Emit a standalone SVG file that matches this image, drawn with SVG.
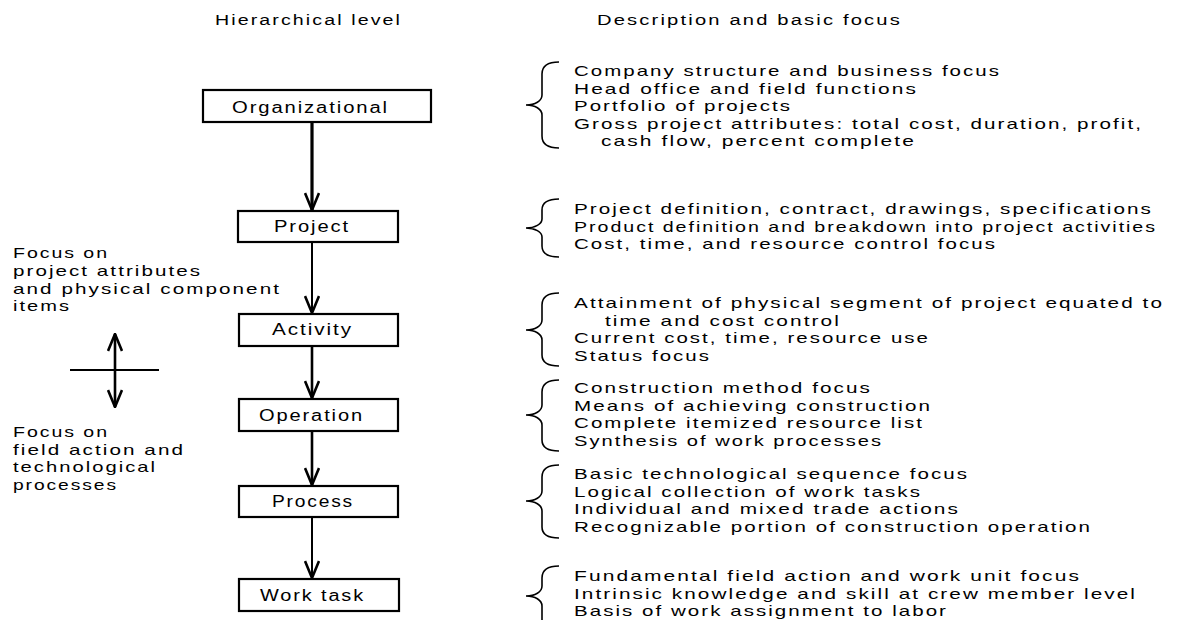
<svg xmlns="http://www.w3.org/2000/svg" width="1198" height="620" viewBox="0 0 1198 620">
<style>
text { font-family: "Liberation Sans", Arial, sans-serif; fill: #000; }
.hd { font-size: 14px; letter-spacing: 1.5px; }
.lb { font-size: 16px; letter-spacing: 1.5px; }
.tx { font-size: 15px; letter-spacing: 1.5px; }
.box { fill: #fff; stroke: #000; stroke-width: 2.2; }
.brace { fill: none; stroke: #000; stroke-width: 1.6; }
.con { stroke: #000; fill: none; }
</style>
<defs>
<marker id="ah" markerUnits="userSpaceOnUse" viewBox="0 0 20 16" markerWidth="20" markerHeight="16" refX="19" refY="8" orient="auto-start-reverse">
<path d="M2,1 L19,8 L2,15" fill="none" stroke="#000" stroke-width="2.6"/>
</marker>
</defs>
<rect width="1198" height="620" fill="#fff"/>

<g id="headers">
<text class="hd" x="215" y="25" textLength="187" lengthAdjust="spacingAndGlyphs">Hierarchical level</text>
<text class="hd" x="597" y="25" textLength="305" lengthAdjust="spacingAndGlyphs">Description and basic focus</text>
</g>

<g id="connectors">
<line class="con" x1="312" y1="122" x2="312" y2="210" stroke-width="3.2" marker-end="url(#ah)"/>
<line class="con" x1="312" y1="242" x2="312" y2="313" stroke-width="2" marker-end="url(#ah)"/>
<line class="con" x1="312" y1="346" x2="312" y2="398" stroke-width="2.6" marker-end="url(#ah)"/>
<line class="con" x1="312" y1="431" x2="312" y2="485" stroke-width="2.6" marker-end="url(#ah)"/>
<line class="con" x1="312" y1="517" x2="312" y2="578" stroke-width="2" marker-end="url(#ah)"/>
<line class="con" x1="70" y1="370" x2="159" y2="370" stroke-width="2"/>
<line class="con" x1="115" y1="334" x2="115" y2="407" stroke-width="2.6" marker-start="url(#ah)" marker-end="url(#ah)"/>
</g>

<g id="node-organizational">
<rect class="box" x="203" y="90" width="228" height="32"/>
<text class="lb" x="232" y="113" textLength="157" lengthAdjust="spacingAndGlyphs">Organizational</text>
</g>
<g id="node-project">
<rect class="box" x="238" y="211" width="160" height="31"/>
<text class="lb" x="274" y="232" textLength="76" lengthAdjust="spacingAndGlyphs">Project</text>
</g>
<g id="node-activity">
<rect class="box" x="239" y="314" width="159" height="32"/>
<text class="lb" x="272" y="335" textLength="81" lengthAdjust="spacingAndGlyphs">Activity</text>
</g>
<g id="node-operation">
<rect class="box" x="239" y="399" width="159" height="32"/>
<text class="lb" x="259" y="421" textLength="105" lengthAdjust="spacingAndGlyphs">Operation</text>
</g>
<g id="node-process">
<rect class="box" x="239" y="486" width="159" height="31"/>
<text class="lb" x="272" y="507" textLength="82" lengthAdjust="spacingAndGlyphs">Process</text>
</g>
<g id="node-worktask">
<rect class="box" x="239" y="579" width="160" height="32"/>
<text class="lb" x="260" y="601" textLength="105" lengthAdjust="spacingAndGlyphs">Work task</text>
</g>

<g id="focus-upper">
<text class="tx" x="13" y="258" textLength="96" lengthAdjust="spacingAndGlyphs">Focus on</text>
<text class="tx" x="13" y="276" textLength="189" lengthAdjust="spacingAndGlyphs">project attributes</text>
<text class="tx" x="13" y="293.5" textLength="268" lengthAdjust="spacingAndGlyphs">and physical component</text>
<text class="tx" x="13" y="311" textLength="58" lengthAdjust="spacingAndGlyphs">items</text>
</g>
<g id="focus-lower">
<text class="tx" x="13" y="437" textLength="96" lengthAdjust="spacingAndGlyphs">Focus on</text>
<text class="tx" x="13" y="454.5" textLength="172" lengthAdjust="spacingAndGlyphs">field action and</text>
<text class="tx" x="13" y="472" textLength="144" lengthAdjust="spacingAndGlyphs">technological</text>
<text class="tx" x="13" y="489.5" textLength="105" lengthAdjust="spacingAndGlyphs">processes</text>
</g>

<g id="desc-organizational">
<path class="brace" d="M559,62 C548,62 542,66 542,74 L542,95 C542,101 535,105 526,105 C535,105 542,109 542,115 L542,136 C542,144 548,148 559,148"/>
<text class="tx" x="574" y="76" textLength="427" lengthAdjust="spacingAndGlyphs">Company structure and business focus</text>
<text class="tx" x="574" y="93.5" textLength="344" lengthAdjust="spacingAndGlyphs">Head office and field functions</text>
<text class="tx" x="574" y="111" textLength="218" lengthAdjust="spacingAndGlyphs">Portfolio of projects</text>
<text class="tx" x="574" y="128.5" textLength="569" lengthAdjust="spacingAndGlyphs">Gross project attributes: total cost, duration, profit,</text>
<text class="tx" x="601" y="146" textLength="315" lengthAdjust="spacingAndGlyphs">cash flow, percent complete</text>
</g>
<g id="desc-project">
<path class="brace" d="M559,199 C548,199 542,203 542,210 L542,219 C542,224 535,228 526,228 C535,228 542,232 542,237 L542,246 C542,253 548,257 559,257"/>
<text class="tx" x="574" y="214" textLength="579" lengthAdjust="spacingAndGlyphs">Project definition, contract, drawings, specifications</text>
<text class="tx" x="574" y="231.5" textLength="583" lengthAdjust="spacingAndGlyphs">Product definition and breakdown into project activities</text>
<text class="tx" x="574" y="249" textLength="423" lengthAdjust="spacingAndGlyphs">Cost, time, and resource control focus</text>
</g>
<g id="desc-activity">
<path class="brace" d="M559,293 C548,293 542,297 542,305 L542,320 C542,326 535,330 526,330 C535,330 542,334 542,340 L542,355 C542,362 548,366 559,366"/>
<text class="tx" x="574" y="308" textLength="590" lengthAdjust="spacingAndGlyphs">Attainment of physical segment of project equated to</text>
<text class="tx" x="605" y="325.5" textLength="236" lengthAdjust="spacingAndGlyphs">time and cost control</text>
<text class="tx" x="574" y="343" textLength="356" lengthAdjust="spacingAndGlyphs">Current cost, time, resource use</text>
<text class="tx" x="574" y="360.5" textLength="137" lengthAdjust="spacingAndGlyphs">Status focus</text>
</g>
<g id="desc-operation">
<path class="brace" d="M559,380 C548,380 542,384 542,392 L542,405 C542,411 535,415 526,415 C535,415 542,419 542,425 L542,440 C542,447 548,451 559,451"/>
<text class="tx" x="574" y="393" textLength="298" lengthAdjust="spacingAndGlyphs">Construction method focus</text>
<text class="tx" x="574" y="410.5" textLength="358" lengthAdjust="spacingAndGlyphs">Means of achieving construction</text>
<text class="tx" x="574" y="428" textLength="350" lengthAdjust="spacingAndGlyphs">Complete itemized resource list</text>
<text class="tx" x="574" y="445.5" textLength="309" lengthAdjust="spacingAndGlyphs">Synthesis of work processes</text>
</g>
<g id="desc-process">
<path class="brace" d="M559,465 C548,465 542,469 542,477 L542,491 C542,497 535,501 526,501 C535,501 542,505 542,511 L542,527 C542,534 548,538 559,538"/>
<text class="tx" x="574" y="479" textLength="395" lengthAdjust="spacingAndGlyphs">Basic technological sequence focus</text>
<text class="tx" x="574" y="496.5" textLength="348" lengthAdjust="spacingAndGlyphs">Logical collection of work tasks</text>
<text class="tx" x="574" y="514" textLength="386" lengthAdjust="spacingAndGlyphs">Individual and mixed trade actions</text>
<text class="tx" x="574" y="531.5" textLength="518" lengthAdjust="spacingAndGlyphs">Recognizable portion of construction operation</text>
</g>
<g id="desc-worktask">
<path class="brace" d="M559,566 C548,566 542,570 542,578 L542,586 C542,592 535,596 526,596 C535,596 542,600 542,606 L542,630"/>
<text class="tx" x="574" y="581" textLength="507" lengthAdjust="spacingAndGlyphs">Fundamental field action and work unit focus</text>
<text class="tx" x="574" y="598.5" textLength="563" lengthAdjust="spacingAndGlyphs">Intrinsic knowledge and skill at crew member level</text>
<text class="tx" x="574" y="616" textLength="374" lengthAdjust="spacingAndGlyphs">Basis of work assignment to labor</text>
</g>
</svg>
